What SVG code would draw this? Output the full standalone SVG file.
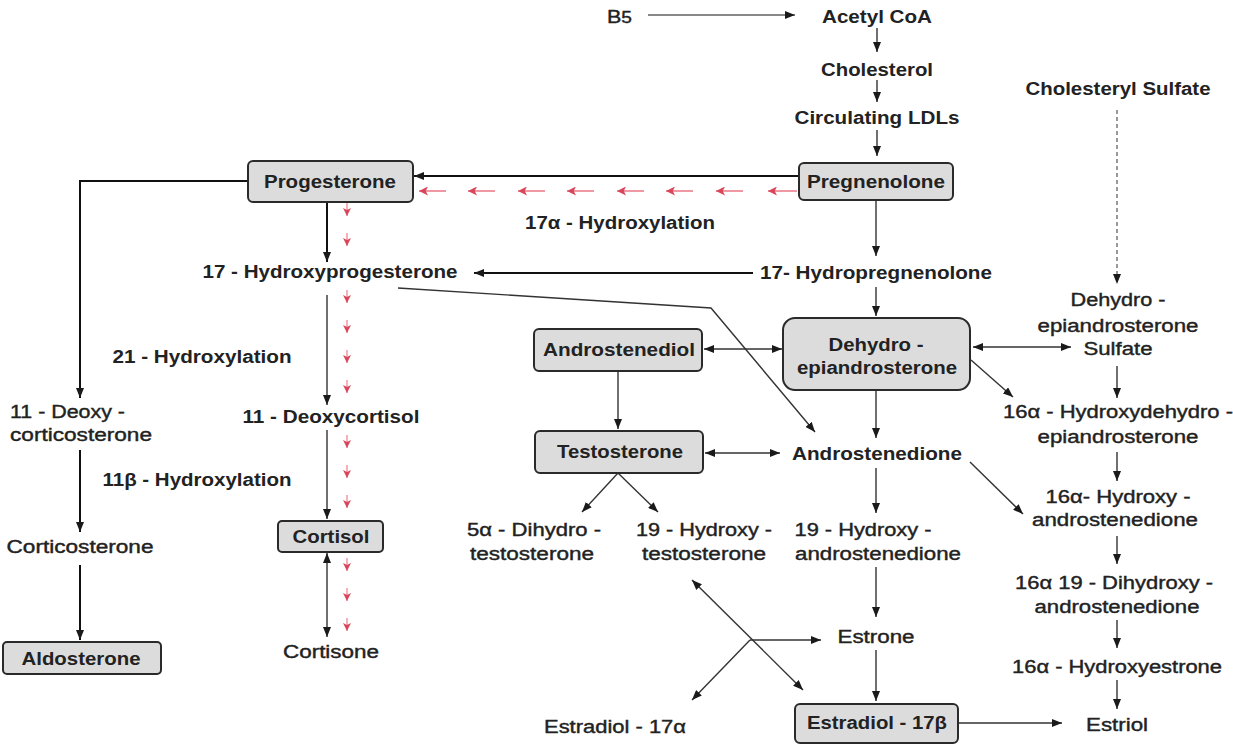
<svg xmlns="http://www.w3.org/2000/svg" width="1233" height="744" viewBox="0 0 1233 744">
<style>
text{font-family:"Liberation Sans",Arial,sans-serif;font-size:18px;fill:#222;stroke:#222;stroke-width:0.4;text-anchor:middle;dominant-baseline:central}
.b{font-weight:bold;stroke-width:0}
.s{text-anchor:start}
.box{fill:#dcdcdc;stroke:#2a2a2a;stroke-width:2}
.c{fill:none;stroke:#333;stroke-width:1.4;marker-end:url(#ah)}
.d{marker-start:url(#ah)}
.k{stroke:#111;stroke-width:2}
.r{fill:none;stroke:#ef97a2;stroke-width:2;marker-end:url(#rh)}
.rv{fill:none;stroke:#ef97a2;stroke-width:1.5;marker-end:url(#rv)}
</style>
<defs>
<marker id="ah" viewBox="0 0 10 8" refX="10" refY="4" markerWidth="10" markerHeight="8" markerUnits="userSpaceOnUse" orient="auto-start-reverse"><path d="M0,0 L10,4 L0,8 z" fill="#1a1a1a"/></marker>
<marker id="rh" viewBox="0 0 8 8" refX="8" refY="4" markerWidth="9" markerHeight="9" markerUnits="userSpaceOnUse" orient="auto"><path d="M0,0 L8,4 L0,8 L2,4 z" fill="#d9465a"/></marker>
<marker id="rv" viewBox="0 0 8 8" refX="8" refY="4" markerWidth="8" markerHeight="9" markerUnits="userSpaceOnUse" orient="auto"><path d="M0,0 L8,4 L0,8 L2,4 z" fill="#d9465a"/></marker>
</defs>
<rect width="1233" height="744" fill="#fff"/>

<g id="connectors">
<line x1="648" y1="15" x2="795" y2="15" class="c" style="stroke:#888;stroke-width:2"/>
<line x1="877" y1="28" x2="877" y2="52" class="c"/>
<line x1="877" y1="80" x2="877" y2="102" class="c"/>
<line x1="877" y1="130" x2="877" y2="156" class="c"/>
<line x1="799" y1="176" x2="414" y2="176" class="c k"/>
<line x1="446" y1="191" x2="419" y2="191" class="r"/>
<line x1="495" y1="191" x2="468" y2="191" class="r"/>
<line x1="545" y1="191" x2="518" y2="191" class="r"/>
<line x1="594" y1="191" x2="567" y2="191" class="r"/>
<line x1="644" y1="191" x2="617" y2="191" class="r"/>
<line x1="693" y1="191" x2="666" y2="191" class="r"/>
<line x1="743" y1="191" x2="716" y2="191" class="r"/>
<line x1="797" y1="191" x2="768" y2="191" class="r"/>
<polyline points="248,181 80,181 80,398" class="c k"/>
<line x1="80" y1="450" x2="80" y2="532" class="c k"/>
<line x1="80" y1="565" x2="80" y2="640" class="c k"/>
<line x1="327" y1="202" x2="327" y2="262" class="c k"/>
<line x1="753" y1="273" x2="474" y2="273" class="c k"/>
<line x1="876" y1="200" x2="876" y2="256" class="c"/>
<line x1="876" y1="287" x2="876" y2="316" class="c"/>
<polyline points="398,288 711,308 815,432" class="c"/>
<line x1="327" y1="295" x2="327" y2="405" class="c"/>
<line x1="327" y1="430" x2="327" y2="519" class="c"/>
<line x1="327" y1="553" x2="327" y2="637" class="c d"/>
<line x1="347" y1="203" x2="347" y2="216" class="rv"/>
<line x1="347" y1="233" x2="347" y2="246" class="rv"/>
<line x1="347" y1="290" x2="347" y2="303" class="rv"/>
<line x1="347" y1="320" x2="347" y2="333" class="rv"/>
<line x1="347" y1="350" x2="347" y2="363" class="rv"/>
<line x1="347" y1="380" x2="347" y2="393" class="rv"/>
<line x1="347" y1="435" x2="347" y2="448" class="rv"/>
<line x1="347" y1="465" x2="347" y2="478" class="rv"/>
<line x1="347" y1="495" x2="347" y2="508" class="rv"/>
<line x1="347" y1="558" x2="347" y2="571" class="rv"/>
<line x1="347" y1="588" x2="347" y2="601" class="rv"/>
<line x1="347" y1="618" x2="347" y2="631" class="rv"/>
<line x1="704" y1="349" x2="782" y2="349" class="c d"/>
<line x1="618" y1="371" x2="618" y2="429" class="c"/>
<line x1="705" y1="453" x2="780" y2="453" class="c d"/>
<line x1="876" y1="390" x2="876" y2="438" class="c"/>
<line x1="973" y1="347" x2="1071" y2="347" class="c d"/>
<line x1="971" y1="360" x2="1013" y2="397" class="c"/>
<line x1="1117" y1="110" x2="1117" y2="284" class="c" style="stroke:#555;stroke-width:1.2;stroke-dasharray:4 3"/>
<line x1="1117" y1="366" x2="1117" y2="398" class="c"/>
<line x1="1117" y1="452" x2="1117" y2="481" class="c"/>
<line x1="970" y1="462" x2="1023" y2="514" class="c"/>
<line x1="1117" y1="536" x2="1117" y2="564" class="c"/>
<line x1="1117" y1="620" x2="1117" y2="648" class="c"/>
<line x1="1117" y1="680" x2="1117" y2="709" class="c"/>
<line x1="618" y1="473" x2="582" y2="512" class="c"/>
<line x1="618" y1="473" x2="658" y2="512" class="c"/>
<line x1="876" y1="468" x2="876" y2="513" class="c"/>
<line x1="876" y1="567" x2="876" y2="617" class="c"/>
<line x1="876" y1="650" x2="876" y2="701" class="c"/>
<line x1="692" y1="580" x2="803" y2="690" class="c d"/>
<line x1="750" y1="640" x2="821" y2="640" class="c"/>
<line x1="750" y1="640" x2="692" y2="700" class="c"/>
<line x1="958" y1="723" x2="1062" y2="723" class="c"/>
</g>

<g id="b5"><text x="607" y="17" class="s" font-size="19" textLength="25" lengthAdjust="spacingAndGlyphs">B<tspan font-size="16">5</tspan></text></g>
<g id="acetyl"><text x="877" y="17" class="b" textLength="110" lengthAdjust="spacingAndGlyphs">Acetyl CoA</text></g>
<g id="cholesterol"><text x="877" y="70" class="b" textLength="112" lengthAdjust="spacingAndGlyphs">Cholesterol</text></g>
<g id="ldl"><text x="877" y="118" class="b" textLength="165" lengthAdjust="spacingAndGlyphs">Circulating LDLs</text></g>
<g id="pregnenolone"><rect x="799" y="163" width="154" height="37" rx="5" class="box"/><text x="876" y="182" class="b" textLength="138" lengthAdjust="spacingAndGlyphs">Pregnenolone</text></g>
<g id="progesterone"><rect x="248" y="161" width="165" height="41" rx="5" class="box"/><text x="330" y="182" class="b" textLength="132" lengthAdjust="spacingAndGlyphs">Progesterone</text></g>
<g id="hydroxylation17"><text x="620" y="223" class="b" textLength="190" lengthAdjust="spacingAndGlyphs">17α - Hydroxylation</text></g>
<g id="ohp17"><text x="330" y="272" class="b" textLength="255" lengthAdjust="spacingAndGlyphs">17 - Hydroxyprogesterone</text></g>
<g id="ohpreg17"><text x="876" y="273" class="b" textLength="232" lengthAdjust="spacingAndGlyphs">17- Hydropregnenolone</text></g>
<g id="cholsulf"><text x="1118" y="89" class="b" textLength="185" lengthAdjust="spacingAndGlyphs">Cholesteryl Sulfate</text></g>
<g id="dheas"><text x="1118" y="300" textLength="95" lengthAdjust="spacingAndGlyphs">Dehydro -</text><text x="1118" y="326" textLength="161" lengthAdjust="spacingAndGlyphs">epiandrosterone</text><text x="1118" y="349" textLength="69" lengthAdjust="spacingAndGlyphs">Sulfate</text></g>
<g id="dhea"><rect x="783" y="318" width="187" height="72" rx="12" class="box"/><text x="876" y="345" class="b" textLength="95" lengthAdjust="spacingAndGlyphs">Dehydro -</text><text x="877" y="368" class="b" textLength="160" lengthAdjust="spacingAndGlyphs">epiandrosterone</text></g>
<g id="androstenediol"><rect x="534" y="329" width="168" height="42" rx="5" class="box"/><text x="619" y="350" class="b" textLength="152" lengthAdjust="spacingAndGlyphs">Androstenediol</text></g>
<g id="testosterone"><rect x="535" y="431" width="168" height="42" rx="5" class="box"/><text x="620" y="452" class="b" textLength="126" lengthAdjust="spacingAndGlyphs">Testosterone</text></g>
<g id="androstenedione"><text x="877" y="454" class="b" textLength="170" lengthAdjust="spacingAndGlyphs">Androstenedione</text></g>
<g id="ohdhea16"><text x="1118" y="412" textLength="230" lengthAdjust="spacingAndGlyphs">16α - Hydroxydehydro -</text><text x="1118" y="437" textLength="161" lengthAdjust="spacingAndGlyphs">epiandrosterone</text></g>
<g id="ohandro16"><text x="1118" y="497" textLength="145" lengthAdjust="spacingAndGlyphs">16α- Hydroxy -</text><text x="1115" y="520" textLength="166" lengthAdjust="spacingAndGlyphs">androstenedione</text></g>
<g id="dihydroxy"><text x="1114" y="583" textLength="198" lengthAdjust="spacingAndGlyphs">16α 19 - Dihydroxy -</text><text x="1117" y="607" textLength="165" lengthAdjust="spacingAndGlyphs">androstenedione</text></g>
<g id="ohestrone16"><text x="1117" y="667" textLength="210" lengthAdjust="spacingAndGlyphs">16α - Hydroxyestrone</text></g>
<g id="estriol"><text x="1117" y="725" textLength="62" lengthAdjust="spacingAndGlyphs">Estriol</text></g>
<g id="estradiol17b"><rect x="795" y="704" width="163" height="39" rx="5" class="box"/><text x="877" y="723" class="b" textLength="140" lengthAdjust="spacingAndGlyphs">Estradiol - 17β</text></g>
<g id="estradiol17a"><text x="615" y="727" textLength="142" lengthAdjust="spacingAndGlyphs">Estradiol - 17α</text></g>
<g id="estrone"><text x="876" y="637" textLength="77" lengthAdjust="spacingAndGlyphs">Estrone</text></g>
<g id="ohandrost19"><text x="863" y="530" textLength="137" lengthAdjust="spacingAndGlyphs">19 - Hydroxy -</text><text x="878" y="554" textLength="166" lengthAdjust="spacingAndGlyphs">androstenedione</text></g>
<g id="ohtesto19"><text x="704" y="530" textLength="136" lengthAdjust="spacingAndGlyphs">19 - Hydroxy -</text><text x="704" y="554" textLength="124" lengthAdjust="spacingAndGlyphs">testosterone</text></g>
<g id="dht"><text x="534" y="530" textLength="134" lengthAdjust="spacingAndGlyphs">5α - Dihydro -</text><text x="532" y="554" textLength="124" lengthAdjust="spacingAndGlyphs">testosterone</text></g>
<g id="deoxycort"><text x="10" y="412" class="s" textLength="115" lengthAdjust="spacingAndGlyphs">11 - Deoxy -</text><text x="10" y="435" class="s" textLength="142" lengthAdjust="spacingAndGlyphs">corticosterone</text></g>
<g id="corticosterone"><text x="80" y="547" textLength="147" lengthAdjust="spacingAndGlyphs">Corticosterone</text></g>
<g id="aldosterone"><rect x="3" y="642" width="158" height="32" rx="4" class="box"/><text x="81" y="659" class="b" textLength="119" lengthAdjust="spacingAndGlyphs">Aldosterone</text></g>
<g id="hydroxylation21"><text x="202" y="357" class="b" textLength="179" lengthAdjust="spacingAndGlyphs">21 - Hydroxylation</text></g>
<g id="deoxycortisol"><text x="331" y="417" class="b" textLength="177" lengthAdjust="spacingAndGlyphs">11 - Deoxycortisol</text></g>
<g id="hydroxylation11b"><text x="197" y="480" class="b" textLength="189" lengthAdjust="spacingAndGlyphs">11β - Hydroxylation</text></g>
<g id="cortisol"><rect x="278" y="521" width="105" height="31" rx="4" class="box"/><text x="331" y="537" class="b" textLength="77" lengthAdjust="spacingAndGlyphs">Cortisol</text></g>
<g id="cortisone"><text x="331" y="652" textLength="96" lengthAdjust="spacingAndGlyphs">Cortisone</text></g>
</svg>
